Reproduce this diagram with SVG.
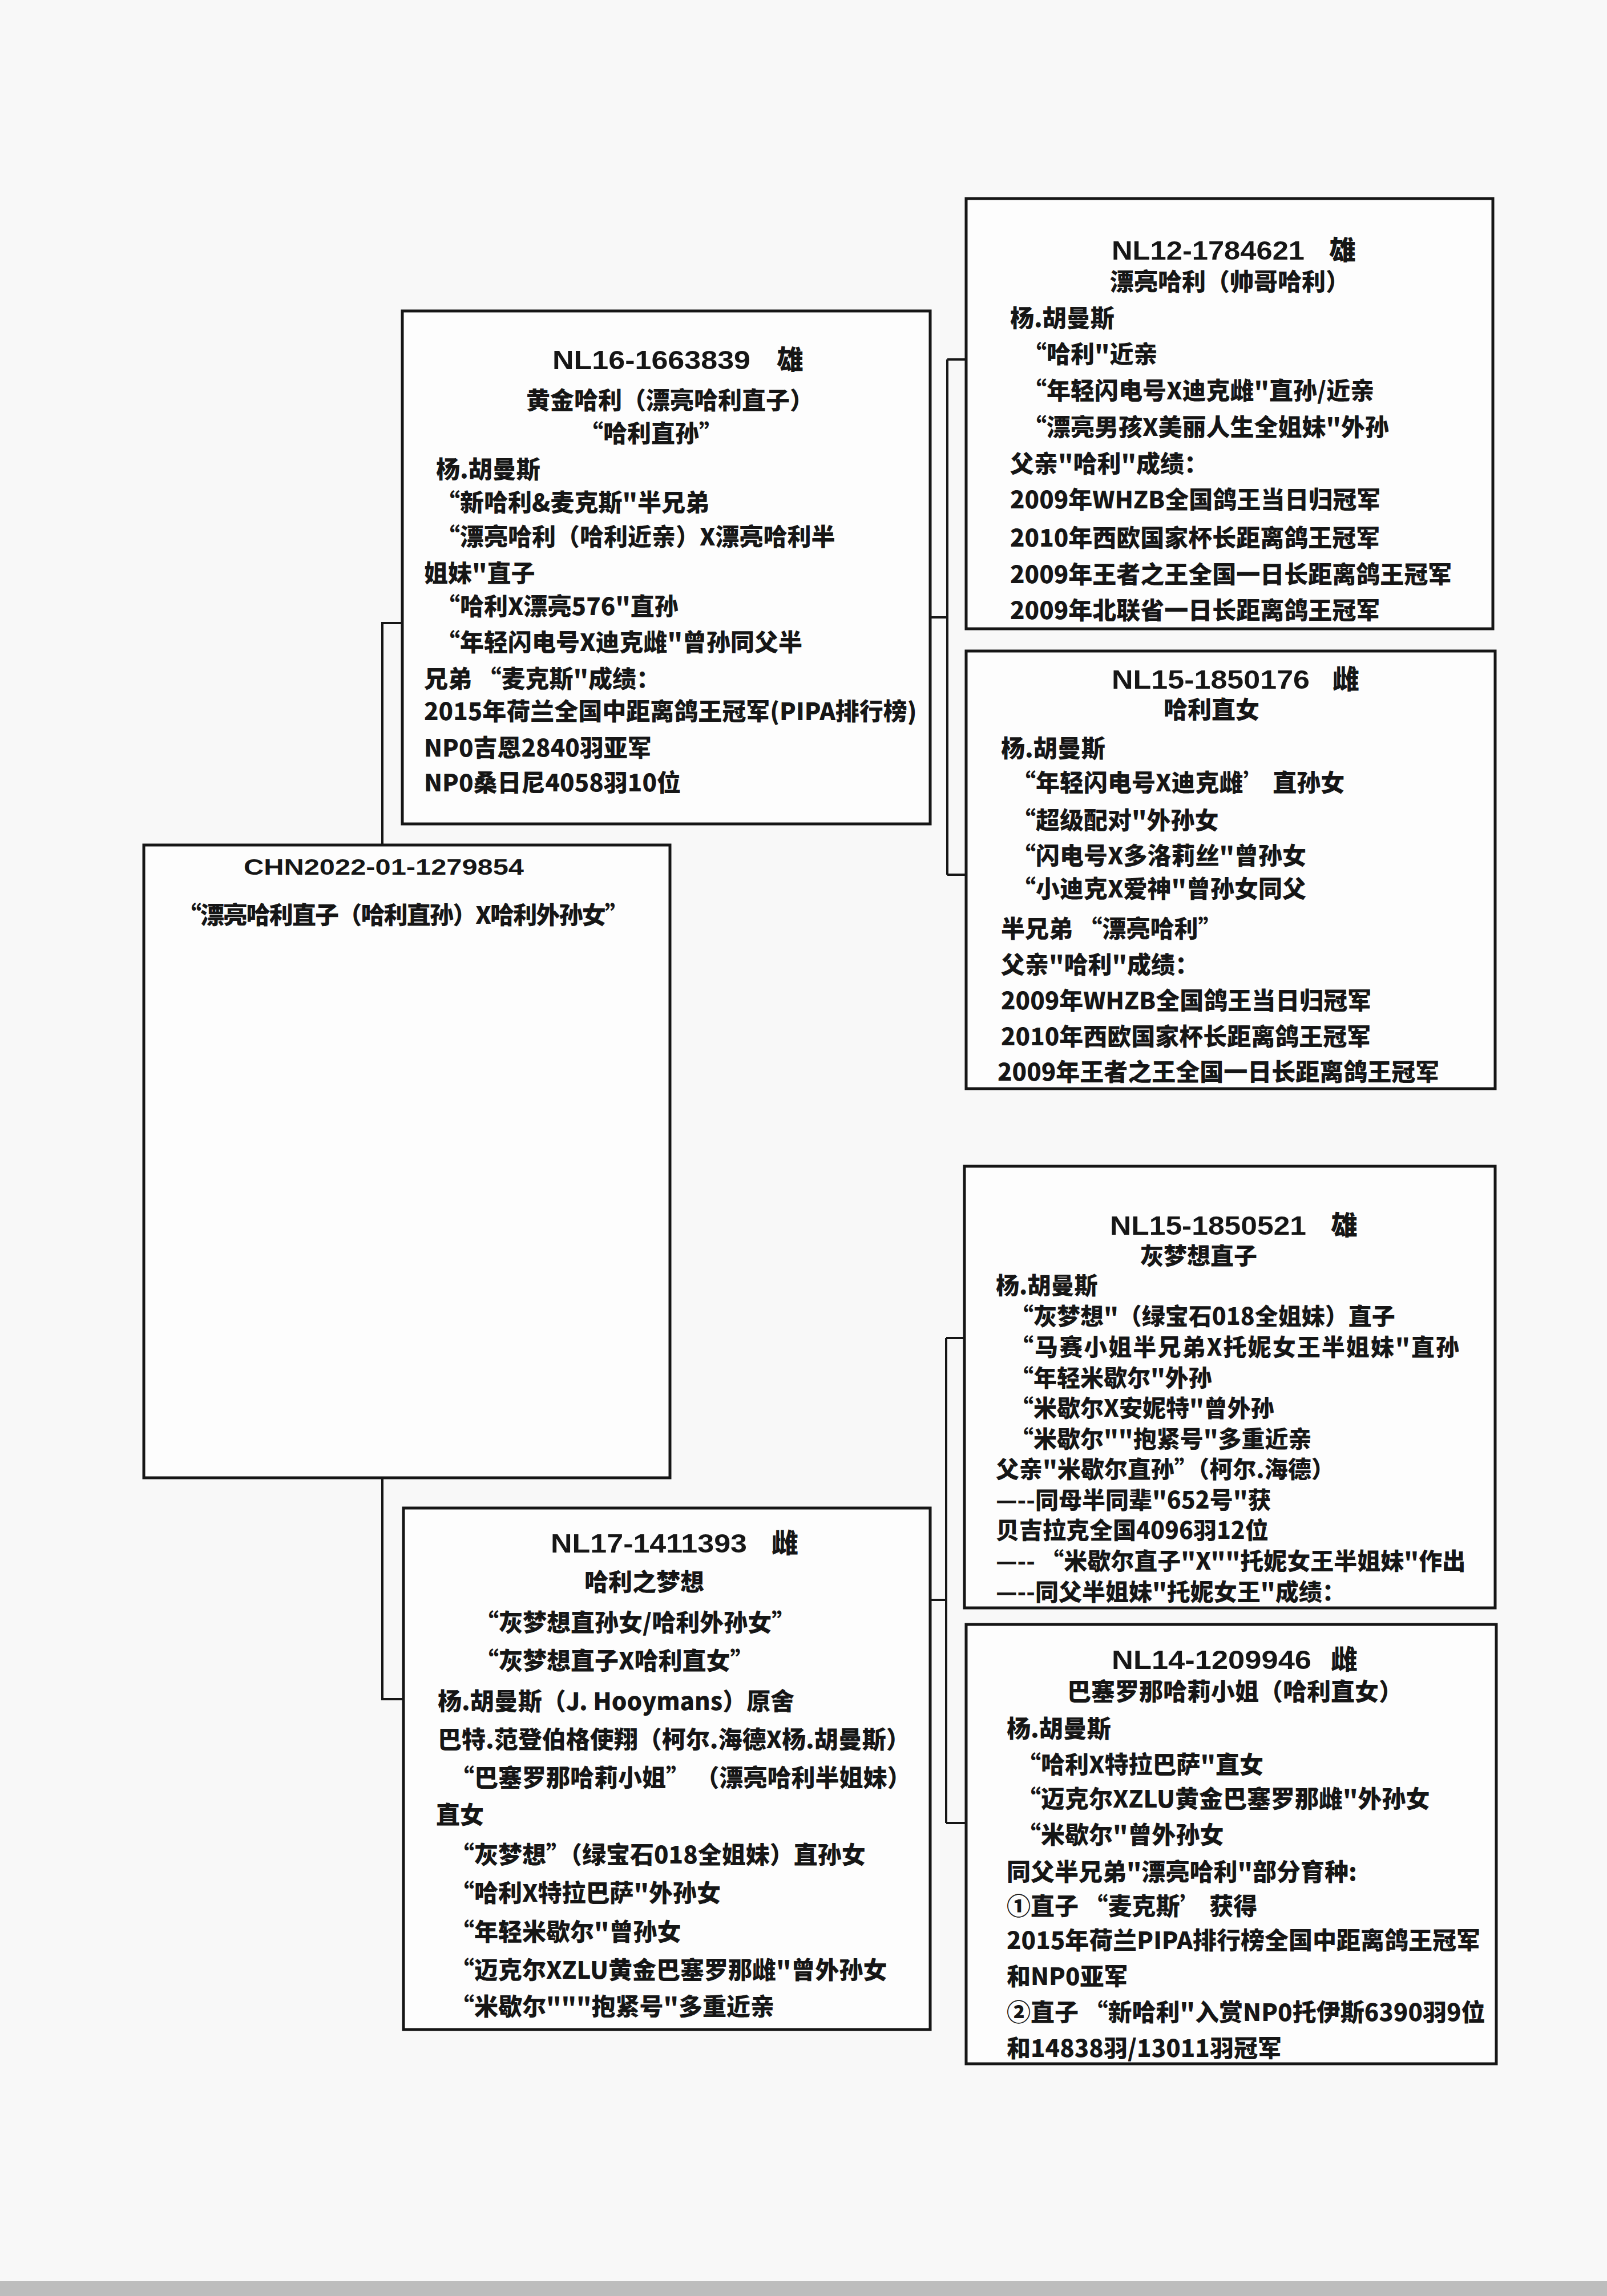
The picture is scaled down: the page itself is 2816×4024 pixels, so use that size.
<svg xmlns="http://www.w3.org/2000/svg" width="2816" height="4024" viewBox="0 0 2816 4024">
<style>
.box{fill:#fdfdfd;stroke:#161616;stroke-width:5}
.conn{fill:none;stroke:#161616;stroke-width:4}
.t{font-family:"Noto Sans CJK SC","Noto Sans CJK JP",sans-serif;font-weight:900;font-size:42px;fill:#161616}
.s{font-size:41px}
.id{font-family:"Liberation Sans",Arial,sans-serif;font-weight:700;font-size:47px;fill:#161616}
.sx{font-family:"Noto Sans CJK SC",sans-serif;font-weight:900;font-size:47px;fill:#161616}
</style>
<rect x="0" y="0" width="2816" height="4024" fill="#f8f8f8"/>
<rect x="0" y="3998" width="2816" height="26" fill="#bdbdbd"/>
<g id="connectors">
<path class="conn" d="M670,1480 V1092 H708"/>
<path class="conn" d="M670,2590 V2978 H708"/>
<path class="conn" d="M1632,1082 H1660 M1660,630 V1533 M1660,630 H1693 M1660,1533 H1693"/>
<path class="conn" d="M1630,2804 H1658 M1658,2345 V3195 M1658,2345 H1690 M1658,3195 H1693"/>
</g>
<g id="node-chn">
<rect class="box" x="252" y="1481" width="922" height="1109"/>
<text class="id" x="427" y="1533" style="font-size:39px" textLength="491" lengthAdjust="spacingAndGlyphs">CHN2022-01-1279854</text>
<text class="t" x="311" y="1619" textLength="791">“漂亮哈利直子（哈利直孙）X哈利外孙女”</text>
</g>
<g id="node-nl16">
<rect class="box" x="705" y="545" width="925" height="899"/>
<text class="id" x="968" y="647" textLength="347" lengthAdjust="spacingAndGlyphs">NL16-1663839</text>
<text class="sx" x="1361" y="647">雄</text>
<text class="t" x="922" y="717">黄金哈利（漂亮哈利直子）</text>
<text class="t" x="1015" y="775">“哈利直孙”</text>
<text class="t" x="764" y="838">杨.胡曼斯</text>
<text class="t" x="764" y="896">“新哈利&amp;麦克斯"半兄弟</text>
<text class="t" x="764" y="956">“漂亮哈利（哈利近亲）X漂亮哈利半</text>
<text class="t" x="743" y="1020">姐妹"直子</text>
<text class="t" x="764" y="1078">“哈利X漂亮576"直孙</text>
<text class="t" x="764" y="1141">“年轻闪电号X迪克雌"曾孙同父半</text>
<text class="t" x="743" y="1205">兄弟 “麦克斯"成绩：</text>
<text class="t" x="743" y="1262">2015年荷兰全国中距离鸽王冠军(PIPA排行榜)</text>
<text class="t" x="743" y="1326">NP0吉恩2840羽亚军</text>
<text class="t" x="743" y="1387">NP0桑日尼4058羽10位</text>
</g>
<g id="node-nl12">
<rect class="box" x="1693" y="348" width="923" height="754"/>
<text class="id" x="1948" y="455" textLength="338" lengthAdjust="spacingAndGlyphs">NL12-1784621</text>
<text class="sx" x="2329" y="455">雄</text>
<text class="t" x="1945" y="509">漂亮哈利（帅哥哈利）</text>
<text class="t" x="1770" y="573">杨.胡曼斯</text>
<text class="t" x="1792" y="636">“哈利"近亲</text>
<text class="t" x="1792" y="700">“年轻闪电号X迪克雌"直孙/近亲</text>
<text class="t" x="1792" y="764">“漂亮男孩X美丽人生全姐妹"外孙</text>
<text class="t" x="1770" y="828">父亲"哈利"成绩：</text>
<text class="t" x="1770" y="891">2009年WHZB全国鸽王当日归冠军</text>
<text class="t" x="1770" y="958">2010年西欧国家杯长距离鸽王冠军</text>
<text class="t" x="1770" y="1022">2009年王者之王全国一日长距离鸽王冠军</text>
<text class="t" x="1770" y="1085">2009年北联省一日长距离鸽王冠军</text>
</g>
<g id="node-nl15-176">
<rect class="box" x="1693" y="1141" width="927" height="767"/>
<text class="id" x="1948" y="1207" textLength="347" lengthAdjust="spacingAndGlyphs">NL15-1850176</text>
<text class="sx" x="2335" y="1207">雌</text>
<text class="t" x="2039" y="1259">哈利直女</text>
<text class="t" x="1754" y="1327">杨.胡曼斯</text>
<text class="t" x="1773" y="1387">“年轻闪电号X迪克雌’ 直孙女</text>
<text class="t" x="1773" y="1453">“超级配对"外孙女</text>
<text class="t" x="1773" y="1515">“闪电号X多洛莉丝"曾孙女</text>
<text class="t" x="1773" y="1573">“小迪克X爱神"曾孙女同父</text>
<text class="t" x="1754" y="1643">半兄弟 “漂亮哈利”</text>
<text class="t" x="1754" y="1706">父亲"哈利"成绩：</text>
<text class="t" x="1754" y="1769">2009年WHZB全国鸽王当日归冠军</text>
<text class="t" x="1754" y="1832">2010年西欧国家杯长距离鸽王冠军</text>
<text class="t" x="1748" y="1894">2009年王者之王全国一日长距离鸽王冠军</text>
</g>
<g id="node-nl15-521">
<rect class="box" x="1690" y="2044" width="930" height="774"/>
<text class="id" x="1945" y="2164" textLength="344" lengthAdjust="spacingAndGlyphs">NL15-1850521</text>
<text class="sx" x="2332" y="2164">雄</text>
<text class="t s" x="1998" y="2216">灰梦想直子</text>
<text class="t s" x="1745" y="2268">杨.胡曼斯</text>
<text class="t s" x="1770" y="2322">“灰梦想"（绿宝石018全姐妹）直子</text>
<text class="t s" x="1770" y="2376" textLength="787">“马赛小姐半兄弟X托妮女王半姐妹"直孙</text>
<text class="t s" x="1770" y="2430">“年轻米歇尔"外孙</text>
<text class="t s" x="1770" y="2483">“米歇尔X安妮特"曾外孙</text>
<text class="t s" x="1770" y="2537">“米歇尔""抱紧号"多重近亲</text>
<text class="t s" x="1745" y="2590">父亲"米歇尔直孙”（柯尔.海德）</text>
<text class="t s" x="1745" y="2644">—--同母半同辈"652号"获</text>
<text class="t s" x="1745" y="2697">贝吉拉克全国4096羽12位</text>
<text class="t s" x="1745" y="2751">—-- “米歇尔直子"X""托妮女王半姐妹"作出</text>
<text class="t s" x="1745" y="2805">—--同父半姐妹"托妮女王"成绩：</text>
</g>
<g id="node-nl17">
<rect class="box" x="707" y="2643" width="923" height="914"/>
<text class="id" x="965" y="2721" textLength="344" lengthAdjust="spacingAndGlyphs">NL17-1411393</text>
<text class="sx" x="1352" y="2721">雌</text>
<text class="t" x="1024" y="2788">哈利之梦想</text>
<text class="t" x="832" y="2859">“灰梦想直孙女/哈利外孙女”</text>
<text class="t" x="832" y="2926">“灰梦想直子X哈利直女”</text>
<text class="t" x="767" y="2997">杨.胡曼斯（J.  Hooymans）原舍</text>
<text class="t" x="767" y="3064">巴特.范登伯格使翔（柯尔.海德X杨.胡曼斯）</text>
<text class="t" x="789" y="3131">“巴塞罗那哈莉小姐” （漂亮哈利半姐妹）</text>
<text class="t" x="764" y="3196">直女</text>
<text class="t" x="789" y="3266">“灰梦想”（绿宝石018全姐妹）直孙女</text>
<text class="t" x="789" y="3333">“哈利X特拉巴萨"外孙女</text>
<text class="t" x="789" y="3401">“年轻米歇尔"曾孙女</text>
<text class="t" x="789" y="3468">“迈克尔XZLU黄金巴塞罗那雌"曾外孙女</text>
<text class="t" x="789" y="3532">“米歇尔"""抱紧号"多重近亲</text>
</g>
<g id="node-nl14">
<rect class="box" x="1693" y="2847" width="929" height="770"/>
<text class="id" x="1948" y="2925" textLength="350" lengthAdjust="spacingAndGlyphs">NL14-1209946</text>
<text class="sx" x="2332" y="2925">雌</text>
<text class="t" x="1870" y="2980">巴塞罗那哈莉小姐（哈利直女）</text>
<text class="t" x="1764" y="3045">杨.胡曼斯</text>
<text class="t" x="1782" y="3108">“哈利X特拉巴萨"直女</text>
<text class="t" x="1782" y="3168">“迈克尔XZLU黄金巴塞罗那雌"外孙女</text>
<text class="t" x="1782" y="3231">“米歇尔"曾外孙女</text>
<text class="t" x="1764" y="3296">同父半兄弟"漂亮哈利"部分育种:</text>
<text class="t" x="1764" y="3356">①直子 “麦克斯’ 获得</text>
<text class="t" x="1764" y="3416">2015年荷兰PIPA排行榜全国中距离鸽王冠军</text>
<text class="t" x="1764" y="3479">和NP0亚军</text>
<text class="t" x="1764" y="3542">②直子 “新哈利"入赏NP0托伊斯6390羽9位</text>
<text class="t" x="1764" y="3605">和14838羽/13011羽冠军</text>
</g>
</svg>
